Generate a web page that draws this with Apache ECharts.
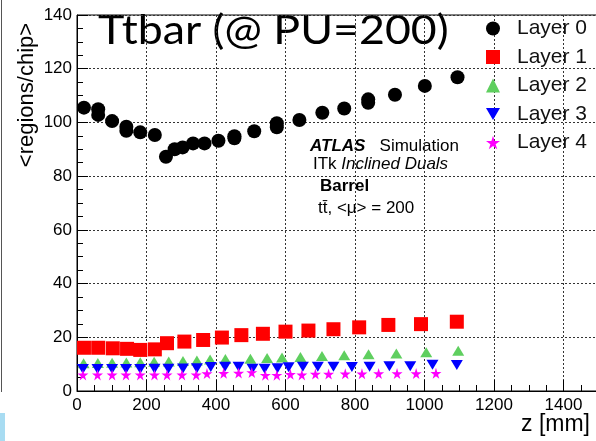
<!DOCTYPE html>
<html>
<head>
<meta charset="utf-8">
<script src="https://cdn.jsdelivr.net/npm/echarts@6/dist/echarts.min.js"></script>
<style>html,body{margin:0;padding:0;background:#fff;}#c{width:596px;height:441px;}</style>
</head>
<body>
<div id="c"></div>
<script>
// ---- data ----
const seriesNames = ['Layer 0', 'Layer 1', 'Layer 2', 'Layer 3', 'Layer 4'];
const xTicks = [0, 200, 400, 600, 800, 1000, 1200, 1400];
const yTicks = [0, 20, 40, 60, 80, 100, 120, 140];

const z0 = [20, 61, 61, 101, 142, 142, 182, 224, 256, 281, 304, 334, 367, 407, 453, 453, 510, 575, 575, 640, 706, 769, 838, 838, 915, 1001, 1095];
const v0 = [105.5, 104.9, 102.8, 100.5, 98.4, 96.9, 96.3, 95.3, 87.2, 90.0, 90.7, 92.2, 92.2, 93.2, 94.9, 94.1, 96.7, 99.7, 98.2, 100.9, 103.6, 105.2, 108.6, 107.3, 110.3, 113.6, 116.8];

const z1 = [20, 61, 103, 144, 182, 224, 259, 309, 363, 417, 473, 535, 600, 666, 738, 812, 896, 990, 1093];
const v1 = [16.1, 16.1, 15.9, 15.7, 15.3, 15.5, 17.8, 18.4, 19.0, 19.9, 20.8, 21.3, 22.1, 22.5, 23.0, 23.7, 24.6, 24.9, 25.8];

const z2 = [19, 60, 101, 142, 182, 222, 264, 305, 345, 383, 427, 499, 547, 590, 643, 705, 769, 839, 919, 1005, 1097];
const v2 = [10.3, 10.4, 10.5, 10.6, 10.7, 10.9, 11.0, 11.2, 11.4, 11.7, 11.9, 12.0, 12.3, 12.5, 12.7, 13.0, 13.3, 13.7, 14.0, 14.4, 15.0];

const z3 = [17, 59, 101, 141, 182, 223, 263, 305, 345, 385, 426, 465, 505, 540, 577, 609, 650, 693, 738, 791, 842, 899, 959, 1023, 1093];
const v3 = [8.2, 8.2, 8.2, 8.2, 8.2, 8.3, 8.3, 8.4, 8.5, 8.9, 9.0, 9.0, 8.3, 8.3, 8.5, 8.8, 9.0, 9.0, 9.0, 8.9, 9.0, 9.2, 9.2, 9.8, 9.7];

const z4 = [17, 59, 101, 141, 182, 223, 259, 302, 343, 374, 422, 465, 503, 542, 575, 614, 647, 686, 724, 772, 820, 868, 921, 976, 1033];
const v4 = [6.0, 6.0, 6.0, 6.0, 6.0, 6.0, 6.0, 6.0, 6.0, 6.5, 6.6, 6.7, 6.9, 5.9, 5.9, 6.2, 6.0, 6.3, 6.3, 6.4, 6.4, 6.5, 6.5, 6.5, 6.6];

// ---- styling ----
const zipXY = (xs, ys) => xs.map((x, i) => [x, ys[i]]);
const FONT = '"Liberation Sans", Arial, sans-serif';
const downTri = 'path://M0,0L20,0L10,17Z';
const star = 'path://M50,0L61,35L98,35L68,57L79,91L50,70L21,91L32,57L2,35L39,35Z';

const symbols = ['circle', 'rect', 'triangle', downTri, star];
const colors = ['#000000', '#ff0000', '#5fcf5f', '#0000ff', '#ff00ff'];
const sizes = [14, 14, [12, 10], [12, 10], 11];
const data = [zipXY(z0, v0), zipXY(z1, v1), zipXY(z2, v2), zipXY(z3, v3), zipXY(z4, v4)];

const chart = echarts.init(document.getElementById('c'), null, {renderer: 'canvas'});

const axisCommon = {
  type: 'value',
  axisLine: {show: true, lineStyle: {color: '#000', width: 1}},
  axisTick: {show: true, inside: true, length: 11, lineStyle: {color: '#000'}},
  minorTick: {show: true, splitNumber: 4, length: 6, lineStyle: {color: '#000'}},
  splitLine: {show: true, lineStyle: {type: [2, 2], color: '#333', width: 1}},
  axisLabel: {color: '#000', fontSize: 17, fontFamily: FONT}
};

const option = {
  animation: false,
  backgroundColor: '#ffffff',
  grid: {left: 77, top: 15, right: -37, bottom: 50, show: true, borderColor: '#000', borderWidth: 1, backgroundColor: 'transparent', outerBoundsMode: 'none', containLabel: false},
  xAxis: Object.assign({}, axisCommon, {
    min: 0, max: 1600, interval: 200,
    axisLabel: Object.assign({}, axisCommon.axisLabel, {margin: 6, formatter: v => xTicks.includes(v) ? String(v) : ''})
  }),
  yAxis: Object.assign({}, axisCommon, {
    min: 0, max: 140, interval: 20,
    axisLabel: Object.assign({}, axisCommon.axisLabel, {margin: 5, formatter: v => yTicks.includes(v) ? String(v) : ''})
  }),
  legend: {
    orient: 'vertical', left: 486, top: 18, padding: 0, itemWidth: 14, itemHeight: 14, itemGap: 7.5,
    textStyle: {fontSize: 21, fontFamily: FONT, color: '#111', padding: [0, 0, 0, 12], lineHeight: 21},
    data: seriesNames.map((n, i) => ({name: n, icon: symbols[i]})),
    selectedMode: false
  },
  series: seriesNames.map((n, i) => ({
    name: n, type: 'scatter', data: data[i], symbol: symbols[i], symbolSize: sizes[i],
    itemStyle: {color: colors[i], opacity: 1}, emphasis: {disabled: true}
  })),
  graphic: [
    {type: 'text', x: 98, y: 31, scaleX: 1.09, style: {text: 'Ttbar (@ PU=200)', font: '41px Lato', fill: '#000', verticalAlign: 'middle'}},
    {type: 'text', x: 27, y: 95, rotation: Math.PI / 2,
     style: {text: '<regions/chip>', font: '22px ' + FONT, fill: '#000', align: 'center', verticalAlign: 'middle'}},
    {type: 'text', x: 521, y: 425, style: {text: 'z [mm]', font: '23px ' + FONT, fill: '#000', align: 'left', verticalAlign: 'middle'}},
    {type: 'text', x: 310, y: 146, style: {
      text: '{bi|ATLAS}   Simulation', font: '17px ' + FONT, fill: '#000', verticalAlign: 'middle',
      rich: {bi: {fontFamily: FONT, fontSize: 17, fontWeight: 'bold', fontStyle: 'italic', fill: '#000'}}}},
    {type: 'text', x: 313, y: 164.5, style: {
      text: 'ITk {i|Inclined Duals}', font: '17px ' + FONT, fill: '#000', verticalAlign: 'middle',
      rich: {i: {fontFamily: FONT, fontSize: 17, fontStyle: 'italic', fill: '#000'}}}},
    {type: 'text', x: 320, y: 186, style: {text: 'Barrel', font: 'bold 17px ' + FONT, fill: '#000', verticalAlign: 'middle'}},
    {type: 'text', x: 318, y: 208, style: {text: 'tt\u0304, <\u03bc> = 200', font: '17px ' + FONT, fill: '#000', verticalAlign: 'middle'}},
    {type: 'line', shape: {x1: 1.5, y1: 0, x2: 1.5, y2: 392}, style: {stroke: '#555', lineWidth: 1}},
    {type: 'rect', shape: {x: 0, y: 413, width: 5, height: 28}, style: {fill: '#a8dcf2'}}
  ]
};
chart.setOption(option);
</script>
</body>
</html>
